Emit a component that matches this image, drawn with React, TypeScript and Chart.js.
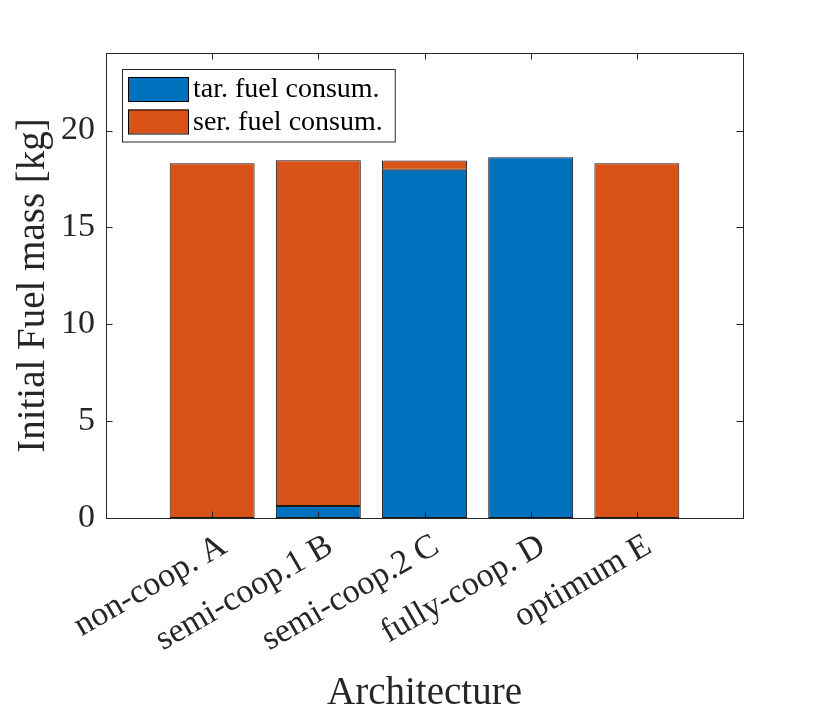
import { useEffect, useRef } from "react";
import { Chart, registerables, Plugin } from "chart.js";

Chart.register(...registerables);

const categories = [
  "non-coop. A",
  "semi-coop.1 B",
  "semi-coop.2 C",
  "fully-coop. D",
  "optimum E",
];
const tarFuel = [0, 0.62, 17.97, 18.62, 0];
const serFuel = [18.31, 17.85, 0.48, 0, 18.31];
const yTicks = [0, 5, 10, 15, 20];

const FONT = "'Liberation Serif', 'Times New Roman', serif";
const INK = "#262626";

// matlab style box + inward ticks on all four sides
const boxPlugin: Plugin<"bar"> = {
  id: "matlabBox",
  afterDatasetsDraw(chart) {
    const { ctx, chartArea: a, scales } = chart;
    const len = 6.5;
    ctx.save();
    ctx.strokeStyle = INK;
    ctx.lineWidth = 1;
    ctx.beginPath();
    scales.x.ticks.forEach((t) => {
      const px = Math.round(scales.x.getPixelForValue(t.value)) + 0.5;
      ctx.moveTo(px, a.bottom);
      ctx.lineTo(px, a.bottom - len);
      ctx.moveTo(px, a.top);
      ctx.lineTo(px, a.top + len);
    });
    scales.y.ticks.forEach((t) => {
      const py = Math.round(scales.y.getPixelForValue(t.value)) + 0.5;
      ctx.moveTo(a.left, py);
      ctx.lineTo(a.left + len, py);
      ctx.moveTo(a.right, py);
      ctx.lineTo(a.right - len, py);
    });
    ctx.stroke();
    ctx.strokeRect(
      Math.round(a.left) + 0.5,
      Math.round(a.top) + 0.5,
      Math.round(a.right - a.left),
      Math.round(a.bottom - a.top)
    );
    ctx.restore();
  },
};

// legend box in the upper left corner of the axes
const legendPlugin: Plugin<"bar"> = {
  id: "insideLegend",
  afterDraw(chart) {
    const { ctx, chartArea: a } = chart;
    const sets = chart.data.datasets;
    const x0 = Math.round(a.left) + 16;
    const y0 = Math.round(a.top) + 16;
    const sw = 60;
    const sh = 24;
    const row = 32.5;
    ctx.save();
    ctx.font = `28px ${FONT}`;
    const tw = Math.max(...sets.map((d) => ctx.measureText(String(d.label)).width));
    const w = 6 + sw + 5 + tw + 12;
    const h = 8 + sh + (sets.length - 1) * row + 8;
    ctx.fillStyle = "#fff";
    ctx.fillRect(x0, y0, w, h);
    ctx.strokeStyle = INK;
    ctx.lineWidth = 1;
    ctx.strokeRect(x0 + 0.5, y0 + 0.5, w, h);
    sets.forEach((d, i) => {
      const sy = y0 + 8 + i * row;
      ctx.fillStyle = d.backgroundColor as string;
      ctx.fillRect(x0 + 6, sy, sw, sh);
      ctx.strokeStyle = "#000";
      ctx.strokeRect(x0 + 6.5, sy + 0.5, sw, sh);
      ctx.fillStyle = "#000";
      ctx.textBaseline = "middle";
      ctx.textAlign = "left";
      ctx.fillText(String(d.label), x0 + 6 + sw + 5, sy + sh / 2 + 1);
    });
    ctx.restore();
  },
};

export default function App() {
  const canvasRef = useRef<HTMLCanvasElement | null>(null);

  useEffect(() => {
    if (!canvasRef.current) return;

    const chart = new Chart(canvasRef.current, {
      type: "bar",
      data: {
        labels: categories.map((_, i) => i + 1),
        datasets: [
          {
            label: "tar. fuel consum.",
            data: tarFuel,
            backgroundColor: "#0072BD",
          },
          {
            label: "ser. fuel consum.",
            data: serFuel,
            backgroundColor: "#D95319",
          },
        ],
      },
      options: {
        responsive: true,
        maintainAspectRatio: false,
        animation: false,
        layout: { padding: { top: 53, right: 79, left: 0, bottom: 0 } },
        datasets: {
          bar: {
            barPercentage: 0.8,
            categoryPercentage: 1,
            borderColor: "#1a1a1a",
            borderWidth: 1,
            borderSkipped: false,
            inflateAmount: 0,
          },
        },
        plugins: {
          legend: { display: false },
          tooltip: { enabled: false },
        },
        scales: {
          x: {
            type: "linear",
            min: 0,
            max: 6,
            offset: false,
            stacked: true,
            afterBuildTicks: (s) => {
              s.ticks = categories.map((_, i) => ({ value: i + 1 }));
            },
            afterFit: (s) => {
              s.height = 199;
            },
            grid: { display: false, drawTicks: false, offset: false },
            border: { display: false },
            ticks: {
              autoSkip: false,
              minRotation: 30,
              maxRotation: 30,
              padding: 8,
              labelOffset: 12,
              color: INK,
              font: { family: FONT, size: 34 },
              callback: (v) => categories[Number(v) - 1] ?? "",
            },
            title: {
              display: true,
              text: "Architecture",
              color: INK,
              font: { family: FONT, size: 39 },
              padding: { top: 0, bottom: 0 },
            },
          },
          y: {
            min: 0,
            max: 24,
            stacked: true,
            afterBuildTicks: (s) => {
              s.ticks = yTicks.map((v) => ({ value: v }));
            },
            afterFit: (s) => {
              s.width = 106;
            },
            grid: { display: false, drawTicks: false },
            border: { display: false },
            ticks: {
              padding: 11,
              color: INK,
              font: { family: FONT, size: 34 },
            },
            title: {
              display: true,
              text: "Initial Fuel mass [kg]",
              color: INK,
              font: { family: FONT, size: 39 },
              padding: { top: 10, bottom: 0 },
            },
          },
        },
      },
      plugins: [boxPlugin, legendPlugin],
    });

    return () => {
      chart.destroy();
    };
  }, []);

  return (
    <div
      style={{ position: "absolute", left: 0, top: 0, width: 822, height: 717 }}
    >
      <canvas ref={canvasRef}></canvas>
    </div>
  );
}
